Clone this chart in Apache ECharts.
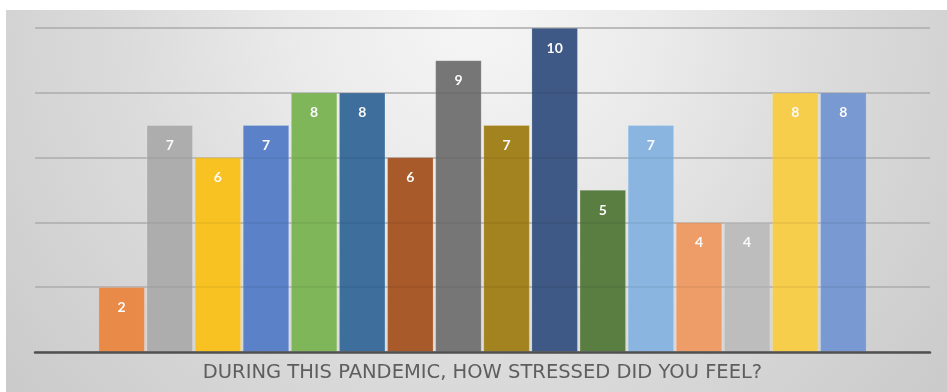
<!DOCTYPE html>
<html>
<head>
<meta charset="utf-8">
<script src="https://cdn.jsdelivr.net/npm/echarts@6/dist/echarts.min.js"></script>
<style>
  html, body { margin: 0; padding: 0; background: #ffffff; }
  #chart { width: 947px; height: 392px; }
</style>
</head>
<body>
<div id="chart"></div>
<script>
// Survey question shown as the single category on the x axis
const categories = ['DURING THIS PANDEMIC, HOW STRESSED DID YOU FEEL?'];

// One response per respondent, in the order drawn
const responses = [2, 7, 6, 7, 8, 8, 6, 9, 7, 10, 5, 7, 4, 4, 8, 8];

// Fill colour for each respondent's bar
const barColors = [
  '#E98A48', '#ADADAD', '#F8C322', '#5B82C8',
  '#7FB65A', '#3D6E9C', '#A85A2A', '#767676',
  '#A3831F', '#3E5985', '#5A7D42', '#89B5E0',
  '#EE9D69', '#BDBDBD', '#F7CD4C', '#7899D1'
];

// Value axis ticks
const yMin = 0;
const yMax = 10;
const yStep = 2;

const chart = echarts.init(document.getElementById('chart'), null, { renderer: 'canvas' });

const series = responses.map((v, i) => ({
  type: 'bar',
  name: 'R' + (i + 1),
  data: [v],
  barWidth: 46,
  barGap: '4.6%',
  itemStyle: {
    color: barColors[i],
    borderColor: 'rgba(255,255,255,0.35)',
    borderWidth: 0.5
  },
  label: {
    show: true,
    position: 'insideTop',
    distance: 13,
    color: '#fbfbfb',
    fontFamily: 'Lato',
    fontWeight: 'bold',
    fontSize: 14
  },
  z: 2
}));

const valueAxisBase = {
  type: 'value',
  min: yMin,
  max: yMax,
  interval: yStep,
  axisLabel: { show: false },
  axisTick: { show: false },
  axisLine: { show: false }
};

chart.setOption({
  animation: false,
  graphic: [{
    type: 'rect',
    z: -10,
    shape: { x: 6, y: 10, width: 941, height: 382 },
    style: {
      fill: {
        type: 'radial',
        x: 0.5, y: 0, r: 1.55,
        colorStops: [
          { offset: 0, color: '#f6f6f6' },
          { offset: 0.3, color: '#ebebeb' },
          { offset: 0.6, color: '#dbdbdb' },
          { offset: 1, color: '#cbcbcb' }
        ]
      }
    }
  }],
  grid: { left: 35, right: 17, top: 28, bottom: 40, containLabel: false },
  xAxis: {
    type: 'category',
    data: categories,
    axisTick: { show: false },
    axisLine: { show: true, lineStyle: { color: '#505050', width: 2.5 } },
    axisLabel: {
      color: '#5e5e5e',
      fontFamily: 'DejaVu Sans',
      fontSize: 19.5,
      margin: 11
    },
    z: 4
  },
  yAxis: [
    Object.assign({}, valueAxisBase, {
      splitLine: { show: true, lineStyle: { color: '#b9b9b9', width: 1.5 } },
      z: 0
    }),
    Object.assign({}, valueAxisBase, {
      splitLine: { show: true, lineStyle: { color: 'rgba(0,0,0,0.07)', width: 1.5 } },
      z: 3
    })
  ],
  series: series
});
</script>
</body>
</html>
